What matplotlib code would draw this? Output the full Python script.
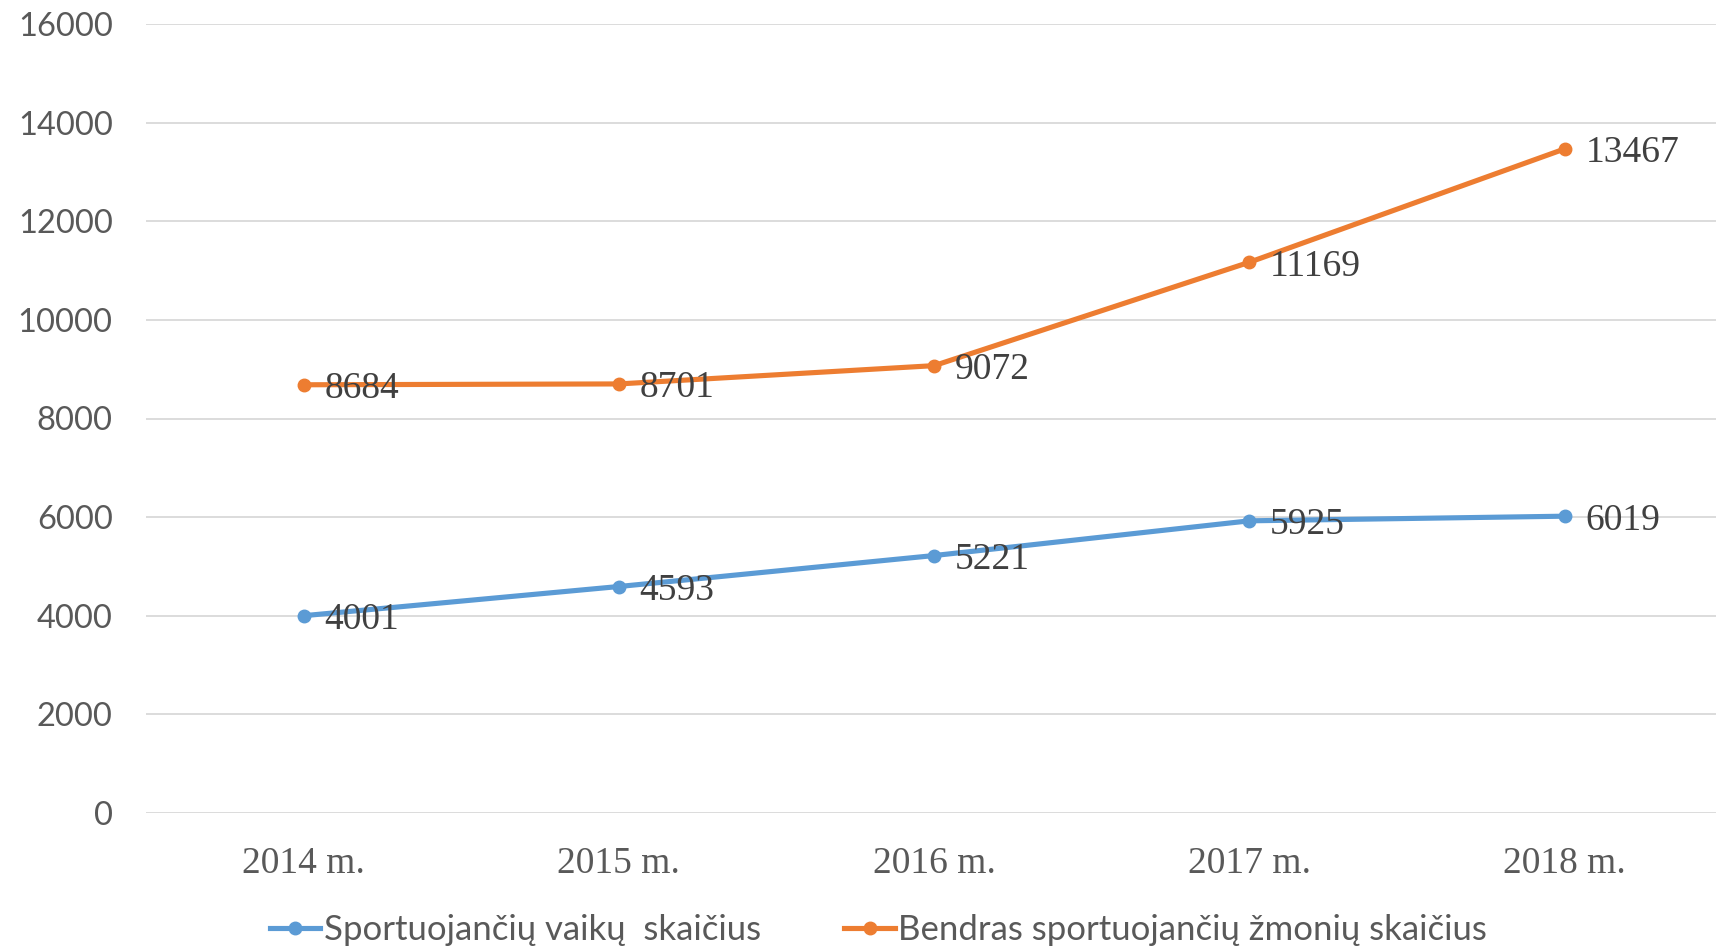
import matplotlib.pyplot as plt

years = ['2014 m.', '2015 m.', '2016 m.', '2017 m.', '2018 m.']
vaikai = [4001, 4593, 5221, 5925, 6019]
bendras = [8684, 8701, 9072, 11169, 13467]
yticks = [0, 2000, 4000, 6000, 8000, 10000, 12000, 14000, 16000]

blue = '#5B9BD5'
orange = '#ED7D31'
serif = ['Liberation Serif', 'DejaVu Serif']
sans = ['Lato', 'DejaVu Sans']

fig = plt.figure(figsize=(17.16, 9.5), dpi=100)
ax = fig.add_axes([146/1716, 1-813/950, 1-146/1716, (813-24)/950])

x = list(range(len(years)))
ax.plot(x, vaikai, color=blue, lw=3.7, marker='o', ms=9, label='Sportuojančių vaikų  skaičius', clip_on=False)
ax.plot(x, bendras, color=orange, lw=3.7, marker='o', ms=9, label='Bendras sportuojančių žmonių skaičius', clip_on=False)

for xi, v in zip(x, vaikai):
    ax.annotate(str(v), (xi, v), xytext=(15, -3), textcoords='offset points',
                va='center', ha='left', fontsize=27, color='#404040', family=serif)
for xi, v in zip(x, bendras):
    ax.annotate(str(v), (xi, v), xytext=(15, -3), textcoords='offset points',
                va='center', ha='left', fontsize=27, color='#404040', family=serif)

ax.set_xlim(-0.5, 4.48)
ax.set_ylim(0, 16000)
ax.set_yticks(yticks)
ax.set_yticklabels([str(t) for t in yticks], fontsize=23.5, color='#595959', family=sans)
ax.set_xticks(x)
ax.set_xticklabels(years, fontsize=27, color='#595959', family=serif)
ax.tick_params(axis='both', length=0)
ax.tick_params(axis='y', pad=24)
ax.tick_params(axis='x', pad=24)
ax.grid(axis='y', color='#D9D9D9', lw=1.3)
ax.set_axisbelow(True)
for s in ax.spines.values():
    s.set_visible(False)

fig.legend(loc='center', bbox_to_anchor=(0.512, 0.021), ncol=2, frameon=False,
           handlelength=1.45, handletextpad=0.1, columnspacing=2.4,
           prop={'family': sans, 'size': 25},
           labelcolor='#595959')

fig.savefig('out.png', dpi=100)
